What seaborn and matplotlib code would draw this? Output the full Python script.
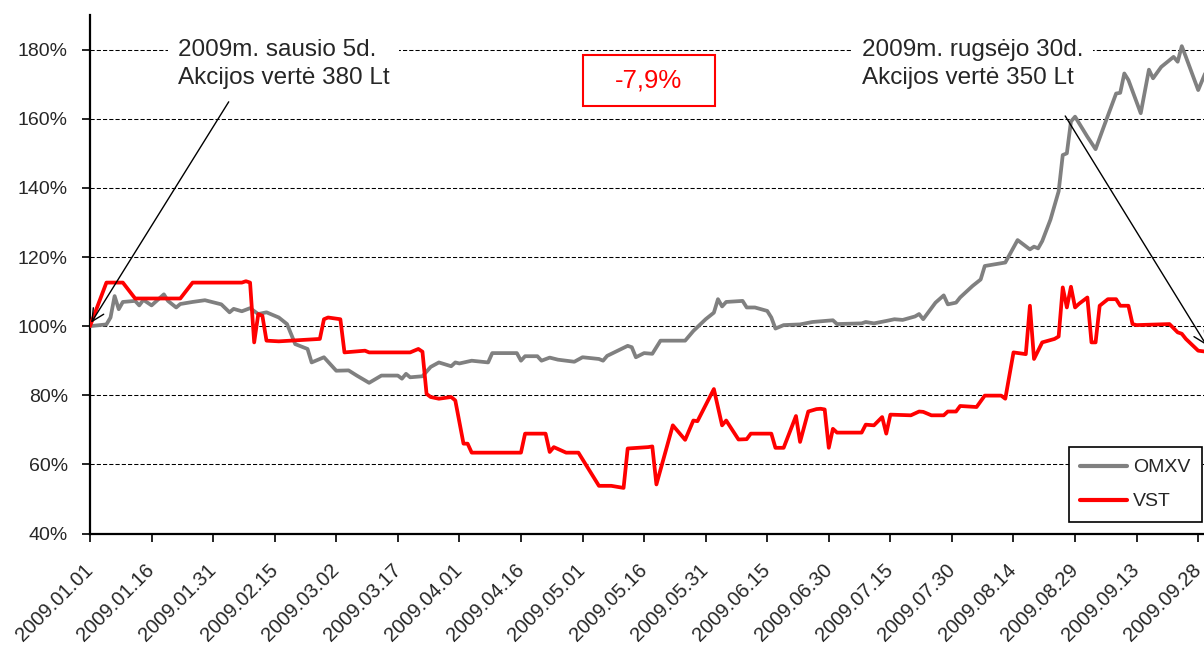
import numpy as np
import pandas as pd
import matplotlib
matplotlib.use('Agg')
import matplotlib.pyplot as plt
import matplotlib.dates as mdates
from matplotlib.patches import Rectangle
import seaborn as sns

# ---- data, days since 2009-01-01, value in % ----
omxv_days = [0, 4, 5, 6, 7, 8, 11, 12, 13, 15, 18, 19, 21, 22, 25, 28, 32, 34, 35, 37,
             39, 41, 43, 46, 48, 49, 50, 53, 54, 57, 60, 63, 65, 68, 71, 75, 76, 77, 78,
             81, 83, 85, 88, 89, 90, 93, 97, 98, 104, 105, 106, 109, 110, 112, 114, 118,
             120, 124, 125, 126, 131, 132, 133, 135, 137, 139, 145, 147, 150, 152, 153,
             154, 155, 159, 160, 162, 165, 166, 167, 169, 173, 176, 181, 182, 188, 189,
             191, 194, 196, 198, 201, 202, 203, 206, 208, 209, 211, 212, 215, 217, 218,
             223, 226, 229, 230, 231, 232, 234, 236, 237, 238, 239, 240, 243, 245, 247,
             250, 251, 252, 253, 256, 258, 259, 261, 264, 265, 266, 267, 270, 272]
omxv_vals = [100, 100.5, 102.5, 108.7, 104.9, 107, 107.3, 106, 107.6, 106, 109.2, 107.3,
             105.4, 106.4, 107, 107.5, 106.3, 104, 105, 104.3, 105.2, 103.5, 104, 102.5,
             100.6, 97.7, 94.8, 93.4, 89.5, 91, 87.1, 87.2, 85.7, 83.6, 85.7, 85.7, 84.8,
             86.2, 85.2, 85.5, 88.2, 89.5, 88.4, 89.5, 89.2, 90, 89.5, 92.2, 92.2, 90,
             91.3, 91.3, 90, 90.9, 90.3, 89.7, 91, 90.5, 90, 91.4, 94.3, 93.9, 91, 92.2,
             92, 95.8, 95.8, 98.6, 102, 103.9, 107.8, 105.7, 107, 107.3, 105.4, 105.4,
             104.4, 102.5, 99.3, 100.3, 100.5, 101.2, 101.7, 100.6, 100.8, 101.2, 100.8,
             101.5, 102, 101.8, 102.8, 103.5, 102, 106.8, 108.9, 106.3, 106.8, 108.3,
             111.6, 113.5, 117.4, 118.4, 124.9, 122.2, 123, 122.5, 124.6, 130.8, 139,
             149.5, 150, 159.2, 160.6, 154.8, 151.2, 157.7, 167.3, 167.5, 173.1, 171.2,
             161.6, 174.2, 171.7, 175, 177.9, 176.5, 181, 177.9, 168.3, 174]

vst_days = [0, 4, 8, 11, 22, 25, 37, 38, 39, 40, 41, 42, 43, 46, 56, 57, 58, 61, 62, 67,
            68, 78, 80, 81, 82, 83, 85, 88, 89, 91, 92, 93, 105, 106, 111, 112, 113, 116,
            119, 124, 127, 130, 131, 136, 137, 138, 142, 145, 147, 148, 152, 154, 155,
            158, 160, 161, 166, 167, 169, 172, 173, 175, 177, 178, 179, 180, 181, 182,
            188, 189, 191, 193, 194, 195, 200, 202, 203, 205, 208, 209, 211, 212, 216,
            218, 222, 223, 225, 228, 229, 230, 232, 235, 236, 237, 238, 239, 240, 241,
            243, 244, 245, 246, 248, 250, 251, 253, 254, 255, 263, 265, 266, 267, 270, 272]
vst_vals = [100, 112.6, 112.6, 108, 108, 112.6, 112.6, 113, 112.6, 95.3, 103.5, 103,
            95.8, 95.6, 96.3, 102, 102.5, 102, 92.4, 92.9, 92.4, 92.4, 93.4, 92.6, 80.4,
            79.5, 79, 79.5, 78.5, 66, 66, 63.4, 63.4, 68.9, 68.9, 63.6, 65, 63.4, 63.4,
            53.8, 53.8, 53.2, 64.6, 65, 65.2, 54.2, 71.3, 67.1, 72.7, 72.5, 81.8, 71.3,
            72.7, 67.2, 67.3, 68.9, 68.9, 64.8, 64.8, 74, 66.5, 75.3, 76, 76.1, 75.9,
            64.8, 70.3, 69.2, 69.2, 71.5, 71.3, 73.7, 68.9, 74.4, 74.2, 75.3, 75.2, 74.2,
            74.2, 75.3, 75.3, 76.9, 76.6, 79.9, 79.9, 79, 92.4, 91.9, 105.9, 90.5, 95.3,
            96.3, 97, 111.2, 105.4, 111.4, 105.4, 106.5, 108.3, 95.3, 95.3, 105.9, 107.8,
            107.8, 105.9, 105.9, 100.6, 100.3, 100.6, 98.2, 97.8, 96.3, 92.9, 92.6]

series_names = ['OMXV', 'VST']
series_colors = ['#808080', '#FF0000']
y_ticks = [40, 60, 80, 100, 120, 140, 160, 180]

note_start = '2009m. sausio 5d.\nAkcijos vertė 380 Lt'
note_end = '2009m. rugsėjo 30d.\nAkcijos vertė 350 Lt'
change_label = '-7,9%'

start = pd.Timestamp('2009-01-01')

df = pd.concat([
    pd.DataFrame({'date': start + pd.to_timedelta(omxv_days, unit='D'),
                  'value': omxv_vals, 'series': 'OMXV'}),
    pd.DataFrame({'date': start + pd.to_timedelta(vst_days, unit='D'),
                  'value': vst_vals, 'series': 'VST'}),
], ignore_index=True)

sns.set_style('white')
plt.rcParams['font.family'] = ['Liberation Sans', 'DejaVu Sans']

fig = plt.figure(figsize=(12.04, 6.46), dpi=100)
ax = fig.add_axes([0.07475, 0.1741, 0.9252, 0.8026])

sns.lineplot(data=df, x='date', y='value', hue='series', hue_order=series_names,
             palette=series_colors, linewidth=2.7, estimator=None, sort=False,
             ax=ax, zorder=3)

ax.set_xlim(mdates.date2num(start), mdates.date2num(start + pd.Timedelta(days=271.4)))
ax.set_ylim(40, 190)

ticks = pd.date_range(start, periods=19, freq='15D')
ax.set_xticks(ticks)
ax.xaxis.set_major_formatter(mdates.DateFormatter('%Y.%m.%d'))
ax.set_yticks(y_ticks)
ax.set_yticklabels([f'{v}%' for v in y_ticks])
ax.set_xlabel('')
ax.set_ylabel('')

ax.tick_params(axis='x', direction='out', length=6, width=1.2, labelsize=14.5, pad=18,
               bottom=True, color='black')
ax.tick_params(axis='y', direction='out', length=6, width=1.2, labelsize=14, pad=10,
               left=True, color='black')
for lab in ax.get_xticklabels():
    lab.set_rotation(45)
    lab.set_ha('right')
    lab.set_va('center')
    lab.set_rotation_mode('anchor')

ax.grid(axis='y', color='black', linestyle=(0, (4, 2)), linewidth=0.75, zorder=1)
ax.grid(axis='x', visible=False)
ax.set_axisbelow(True)
for side in ['top', 'right']:
    ax.spines[side].set_visible(False)
for side in ['left', 'bottom']:
    ax.spines[side].set_color('black')
    ax.spines[side].set_linewidth(1.6)

# annotation texts with white background (they cut the 180% gridline)
ax.text(0.079, 0.953, note_start, transform=ax.transAxes, ha='left', va='top',
        fontsize=17.5, linespacing=1.3, zorder=4,
        bbox=dict(facecolor='white', edgecolor='none', pad=7))
ax.text(0.693, 0.953, note_end, transform=ax.transAxes, ha='left', va='top',
        fontsize=17.5, linespacing=1.3, zorder=4,
        bbox=dict(facecolor='white', edgecolor='none', pad=7))

arrow = dict(arrowstyle='->', color='black', lw=1, mutation_scale=22, shrinkA=0, shrinkB=0)
ax.annotate('', xy=(start + pd.Timedelta(days=0.3), 101), xycoords='data',
            xytext=(start + pd.Timedelta(days=33.8), 164.9), textcoords='data',
            arrowprops=arrow, zorder=5)
ax.annotate('', xy=(start + pd.Timedelta(days=272), 94.5), xycoords='data',
            xytext=(start + pd.Timedelta(days=237.6), 160.8), textcoords='data',
            arrowprops=arrow, annotation_clip=False, zorder=5)

# red box with the price change
ax.add_patch(Rectangle((0.4426, 0.8245), 0.1185, 0.0984, transform=ax.transAxes,
                       facecolor='white', edgecolor='#FF0000', linewidth=1.5, zorder=4))
ax.text(0.5018, 0.8737, change_label, transform=ax.transAxes, ha='center', va='center',
        fontsize=18.5, color='#FF0000', zorder=5)

leg = ax.legend(loc='lower right', bbox_to_anchor=(0.9982, 0.022), borderaxespad=0,
                fontsize=14, frameon=True, fancybox=False, framealpha=1,
                handlelength=2.4, handletextpad=0.3, labelspacing=0.85, borderpad=0.6)
leg.get_frame().set_edgecolor('black')
leg.get_frame().set_linewidth(1.2)
for line in leg.get_lines():
    line.set_linewidth(3)

fig.savefig('out.png', dpi=100)
